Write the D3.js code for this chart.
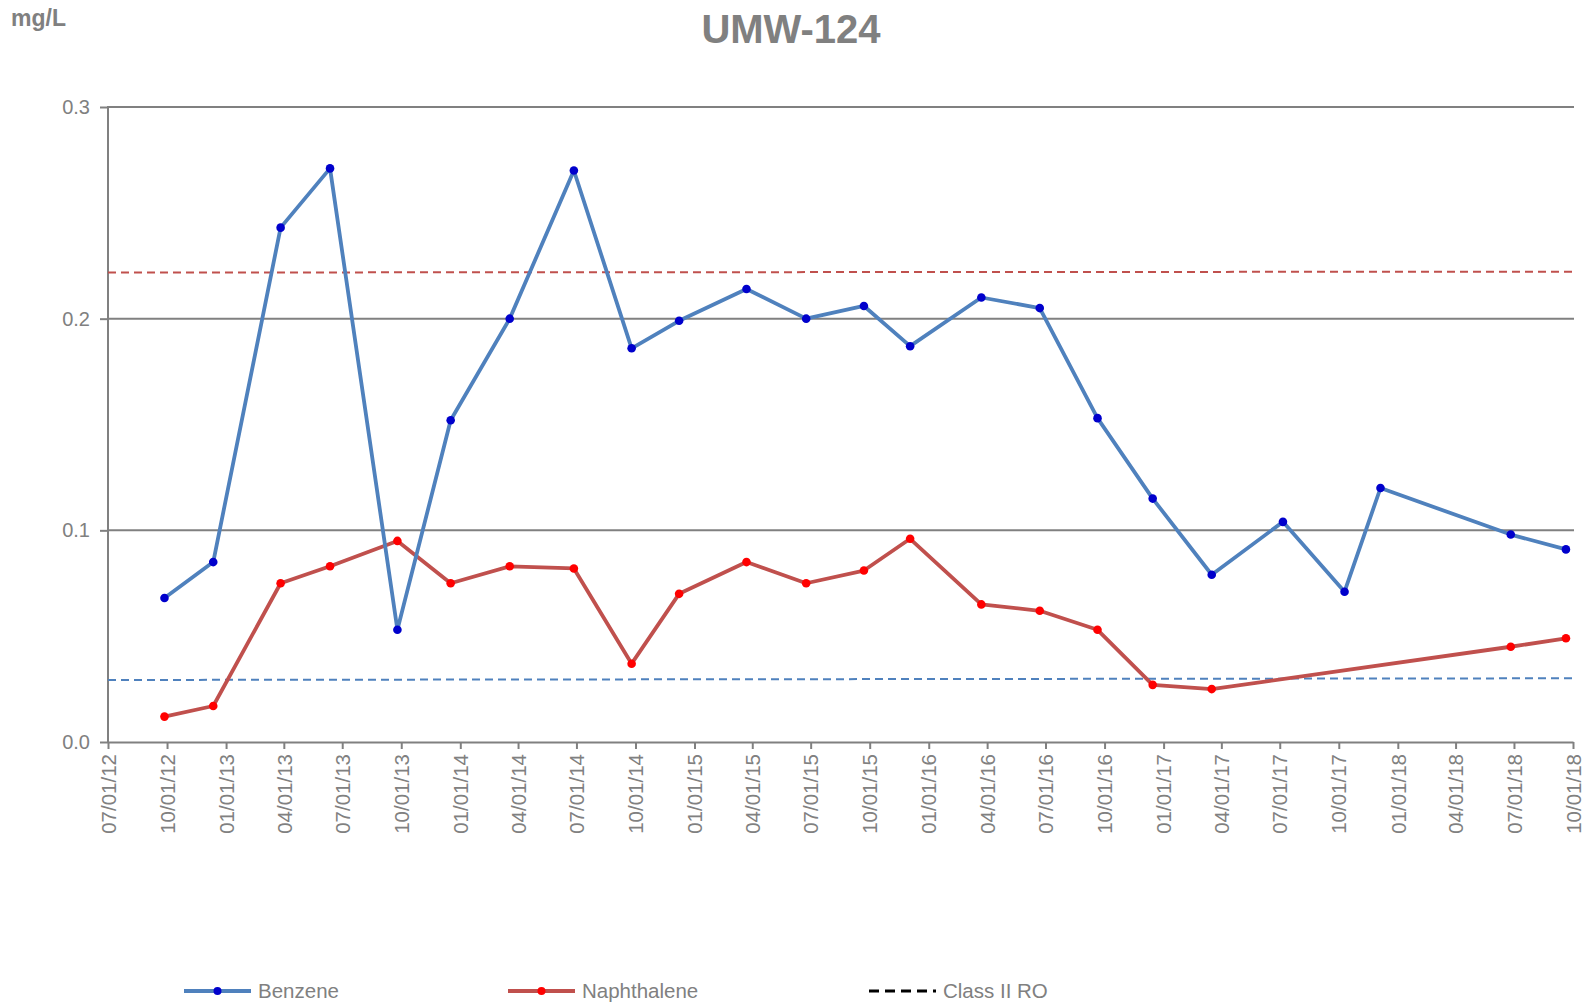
<!DOCTYPE html>
<html>
<head>
<meta charset="utf-8">
<script src="https://cdn.jsdelivr.net/npm/d3@7"></script>
<style>
  body { margin: 0; background: #fff; }
  svg { font-family: Arial, "Liberation Sans", sans-serif; }
</style>
</head>
<body>
<div id="chart"></div>
<script>
// sample dates (benzene has every visit, naphthalene skips three in 2017)
const benzeneDates = ["2012-09-27","2012-12-12","2013-03-27","2013-06-12","2013-09-25","2013-12-17",
  "2014-03-19","2014-06-27","2014-09-25","2014-12-08","2015-03-23","2015-06-24","2015-09-22",
  "2015-12-03","2016-03-23","2016-06-22","2016-09-20","2016-12-15","2017-03-17","2017-07-06",
  "2017-10-10","2017-12-05","2018-06-26","2018-09-20"];
const benzeneValues = [0.068,0.085,0.243,0.271,0.053,0.152,0.200,0.270,0.186,0.199,0.214,0.200,
  0.206,0.187,0.210,0.205,0.153,0.115,0.079,0.104,0.071,0.120,0.098,0.091];

const naphDates = ["2012-09-27","2012-12-12","2013-03-27","2013-06-12","2013-09-25","2013-12-17",
  "2014-03-19","2014-06-27","2014-09-25","2014-12-08","2015-03-23","2015-06-24","2015-09-22",
  "2015-12-03","2016-03-23","2016-06-22","2016-09-20","2016-12-15","2017-03-17","2018-06-26",
  "2018-09-20"];
const naphValues = [0.012,0.017,0.075,0.083,0.095,0.075,0.083,0.082,0.037,0.070,0.085,0.075,
  0.081,0.096,0.065,0.062,0.053,0.027,0.025,0.045,0.049];

// Class II RO lines (start, end)
const roDates = ["2012-07-01","2018-10-01"];
const benzeneRO = [0.0293,0.0301];
const naphRO = [0.2218,0.2222];

const xTickDates = ["2012-07-01","2012-10-01","2013-01-01","2013-04-01","2013-07-01","2013-10-01",
  "2014-01-01","2014-04-01","2014-07-01","2014-10-01","2015-01-01","2015-04-01","2015-07-01",
  "2015-10-01","2016-01-01","2016-04-01","2016-07-01","2016-10-01","2017-01-01","2017-04-01",
  "2017-07-01","2017-10-01","2018-01-01","2018-04-01","2018-07-01","2018-10-01"];
const yTicks = [0, 0.1, 0.2, 0.3];

let parse = d3.timeParse("%Y-%m-%d");
let grey = "#808080";

let width = 1585, height = 1003;
let margin = {left:108, right:12, top:107, bottom:261};

let svg = d3.select("#chart").append("svg")
  .attr("width", width)
  .attr("height", height);

let x = d3.scaleTime()
  .domain([parse("2012-07-01"), parse("2018-10-01")])
  .range([margin.left, width - margin.right]);

let y = d3.scaleLinear()
  .domain([0, 0.3])
  .range([height - margin.bottom, margin.top]);

// title + unit
svg.append("text")
  .attr("x", 791).attr("y", 43)
  .attr("text-anchor","middle")
  .attr("font-size", 40).attr("font-weight","bold")
  .attr("fill", grey)
  .text("UMW-124");

svg.append("text")
  .attr("x", 11).attr("y", 26)
  .attr("font-size", 23).attr("font-weight","bold")
  .attr("fill", grey)
  .text("mg/L");

// gridlines + y axis
let yAxis = svg.append("g")
  .attr("transform","translate("+margin.left+",0)")
  .call(d3.axisLeft(y).tickValues(yTicks).tickFormat(d3.format(".1f"))
    .tickSize(8).tickPadding(10));
yAxis.select(".domain").remove();
yAxis.selectAll(".tick line").attr("stroke", grey).attr("stroke-width", 2);
yAxis.selectAll(".tick text").attr("fill", grey).attr("font-size", 20)
  .attr("font-family","Arial, 'Liberation Sans', sans-serif");

svg.append("g").selectAll("line")
  .data(yTicks.filter(d => d > 0))
  .enter().append("line")
  .attr("x1", margin.left).attr("x2", width - margin.right + 1)
  .attr("y1", d => y(d)).attr("y2", d => y(d))
  .attr("stroke", grey).attr("stroke-width", 2);

svg.append("line")
  .attr("x1", margin.left).attr("x2", margin.left)
  .attr("y1", y(0.3) - 1).attr("y2", y(0))
  .attr("stroke", grey).attr("stroke-width", 2);

// x axis
let xAxis = svg.append("g")
  .attr("transform","translate(0,"+y(0)+")")
  .call(d3.axisBottom(x).tickValues(xTickDates.map(parse))
    .tickFormat(d3.timeFormat("%m/%d/%y")).tickSize(7).tickSizeOuter(0));
xAxis.select(".domain").attr("stroke", grey).attr("stroke-width", 2);
xAxis.selectAll(".tick line").attr("stroke", grey).attr("stroke-width", 2);
xAxis.selectAll(".tick text")
  .attr("fill", grey).attr("font-size", 20.5)
  .attr("font-family","Arial, 'Liberation Sans', sans-serif")
  .attr("text-anchor","end")
  .attr("transform","rotate(-90)")
  .attr("x", -12).attr("y", 0).attr("dy", "0.35em");

// RO dashed lines
let roLine = d3.line().x(d => x(d[0])).y(d => y(d[1]));
function drawRO(values, color)
{
  let pts = roDates.map((d,i) => [parse(d), values[i]]);
  svg.append("path")
    .attr("d", roLine(pts))
    .attr("fill","none")
    .attr("stroke", color)
    .attr("stroke-width", 2)
    .attr("stroke-dasharray","8,5");
}
drawRO(naphRO, "#C0504D");
drawRO(benzeneRO, "#4F81BD");

// series
function drawSeries(dates, values, lineColor, markerColor)
{
  let pts = dates.map((d,i) => ({date: parse(d), v: values[i]}));
  let line = d3.line().x(d => x(d.date)).y(d => y(d.v));
  svg.append("path")
    .attr("d", line(pts))
    .attr("fill","none")
    .attr("stroke", lineColor)
    .attr("stroke-width", 3.8)
    .attr("stroke-linejoin","round");
  svg.append("g").selectAll("circle")
    .data(pts).enter().append("circle")
    .attr("cx", d => x(d.date))
    .attr("cy", d => y(d.v))
    .attr("r", 4.3)
    .attr("fill", markerColor);
}
drawSeries(naphDates, naphValues, "#C0504D", "#FF0000");
drawSeries(benzeneDates, benzeneValues, "#4F81BD", "#0000CC");

// legend
let legendItems = [
  {name:"Benzene", color:"#4F81BD", marker:"#0000CC", x:184},
  {name:"Naphthalene", color:"#C0504D", marker:"#FF0000", x:508},
  {name:"Class II RO", color:"#000", marker:null, x:869}
];
let ly = 991;
let legend = svg.append("g").selectAll("g")
  .data(legendItems).enter().append("g")
  .attr("transform", d => "translate("+d.x+","+ly+")");
legend.append("line")
  .attr("x1", 0).attr("x2", 67).attr("y1", 0).attr("y2", 0)
  .attr("stroke", d => d.color)
  .attr("stroke-width", d => d.marker ? 4 : 3)
  .attr("stroke-dasharray", d => d.marker ? null : "10,6");
legend.filter(d => d.marker).append("circle")
  .attr("cx", 33.5).attr("cy", 0).attr("r", 4)
  .attr("fill", d => d.marker);
legend.append("text")
  .attr("x", 74).attr("y", 0).attr("dy","0.35em")
  .attr("font-size", 20.5).attr("fill", grey)
  .text(d => d.name);
</script>
</body>
</html>
